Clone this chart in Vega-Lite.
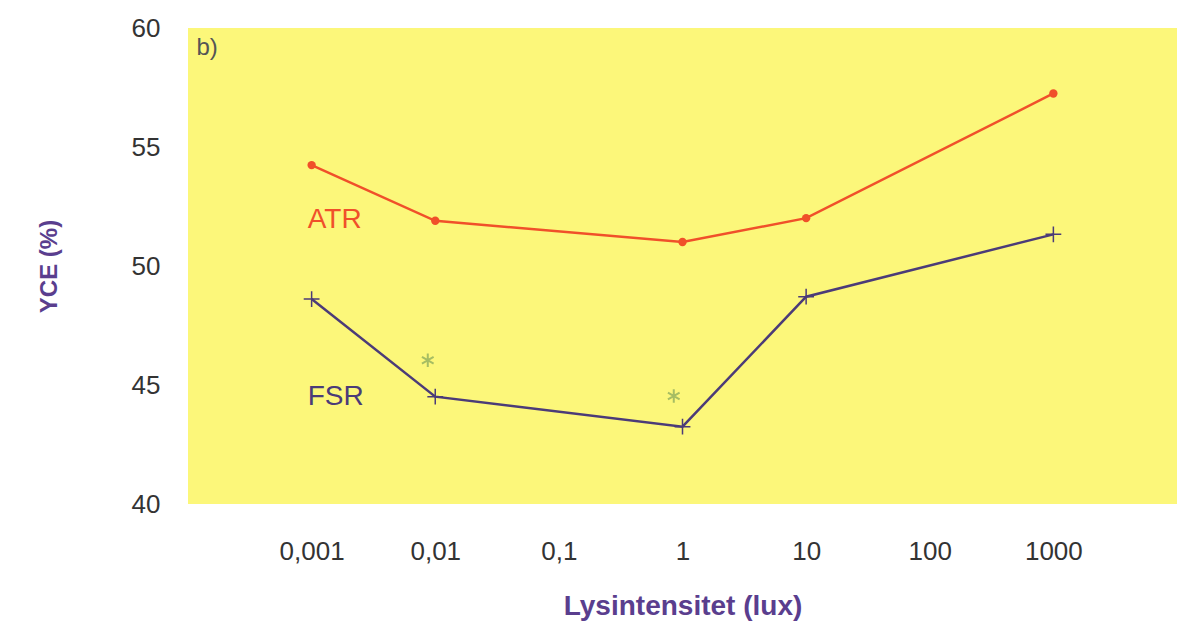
{
  "$schema": "https://vega.github.io/schema/vega-lite/v6.json",
  "width": 989,
  "height": 476,
  "autosize": "none",
  "padding": {"left": 188, "top": 28, "right": 5, "bottom": 120},
  "background": "white",
  "config": {
    "view": {"fill": "#fcf77a", "stroke": null},
    "font": "Liberation Sans"
  },
  "datasets": {
    "lines": [
      {"lux": 0.001, "yce": 54.24, "series": "ATR"},
      {"lux": 0.01, "yce": 51.9, "series": "ATR"},
      {"lux": 1, "yce": 51.01, "series": "ATR"},
      {"lux": 10, "yce": 52.01, "series": "ATR"},
      {"lux": 1000, "yce": 57.25, "series": "ATR"},
      {"lux": 0.001, "yce": 48.61, "series": "FSR"},
      {"lux": 0.01, "yce": 44.51, "series": "FSR"},
      {"lux": 1, "yce": 43.25, "series": "FSR"},
      {"lux": 10, "yce": 48.71, "series": "FSR"},
      {"lux": 1000, "yce": 51.33, "series": "FSR"}
    ],
    "stars": [
      {"lux": 0.0087, "yce": 46.04},
      {"lux": 0.85, "yce": 44.54}
    ],
    "notes": [
      {"lux": 0.000117, "yce": 59.15, "label": "b)"},
      {"lux": 0.00093, "yce": 51.93, "label": "ATR"},
      {"lux": 0.00093, "yce": 44.5, "label": "FSR"}
    ]
  },
  "encoding": {
    "x": {
      "field": "lux",
      "type": "quantitative",
      "scale": {"type": "log", "domain": [0.0001, 10000], "nice": false},
      "axis": {
        "title": "Lysintensitet (lux)",
        "values": [0.001, 0.01, 0.1, 1, 10, 100, 1000],
        "labelExpr": "replace(toString(datum.value), '.', ',')",
        "grid": false,
        "ticks": false,
        "domain": false,
        "labelPadding": 34,
        "labelFontSize": 26,
        "labelColor": "#333333",
        "labelFont": "Liberation Sans",
        "titleFont": "Liberation Sans",
        "titleFontSize": 28,
        "titleFontWeight": "bold",
        "titleColor": "#5a3e8e",
        "titlePadding": 28
      }
    },
    "y": {
      "field": "yce",
      "type": "quantitative",
      "scale": {"domain": [40, 60], "nice": false, "zero": false},
      "axis": {
        "title": "YCE (%)",
        "values": [40, 45, 50, 55, 60],
        "grid": false,
        "ticks": false,
        "domain": false,
        "labelPadding": 28,
        "labelFontSize": 26,
        "labelColor": "#333333",
        "titleFontSize": 24,
        "titleFontWeight": "bold",
        "titleColor": "#5a3e8e",
        "titlePadding": 70
      }
    }
  },
  "layer": [
    {
      "data": {"name": "lines"},
      "mark": {"type": "line", "strokeWidth": 2.5},
      "encoding": {
        "color": {
          "field": "series",
          "type": "nominal",
          "scale": {"domain": ["ATR", "FSR"], "range": ["#f0502a", "#4b3b78"]},
          "legend": null
        }
      }
    },
    {
      "data": {"name": "lines"},
      "transform": [{"filter": "datum.series == 'ATR'"}],
      "mark": {"type": "point", "shape": "circle", "filled": true, "size": 70, "color": "#f0502a", "opacity": 1}
    },
    {
      "data": {"name": "lines"},
      "transform": [{"filter": "datum.series == 'FSR'"}],
      "mark": {"type": "point", "shape": "M-1,0H1M0,-1V1", "filled": false, "size": 250, "strokeWidth": 1.5, "color": "#4b3b78", "opacity": 1}
    },
    {
      "data": {"name": "stars"},
      "mark": {"type": "point", "shape": "M0,-1V1M-0.87,-0.5L0.87,0.5M-0.87,0.5L0.87,-0.5", "filled": false, "size": 180, "strokeWidth": 2, "color": "#a6bd63", "opacity": 1}
    },
    {
      "data": {"name": "notes"},
      "transform": [{"filter": "datum.label == 'b)'"}],
      "mark": {"type": "text", "align": "left", "baseline": "middle", "fontSize": 24, "color": "#555555"},
      "encoding": {"text": {"field": "label"}}
    },
    {
      "data": {"name": "notes"},
      "transform": [{"filter": "datum.label == 'ATR'"}],
      "mark": {"type": "text", "align": "left", "baseline": "middle", "fontSize": 28, "color": "#f0502a"},
      "encoding": {"text": {"field": "label"}}
    },
    {
      "data": {"name": "notes"},
      "transform": [{"filter": "datum.label == 'FSR'"}],
      "mark": {"type": "text", "align": "left", "baseline": "middle", "fontSize": 28, "color": "#4b3b78"},
      "encoding": {"text": {"field": "label"}}
    }
  ]
}
